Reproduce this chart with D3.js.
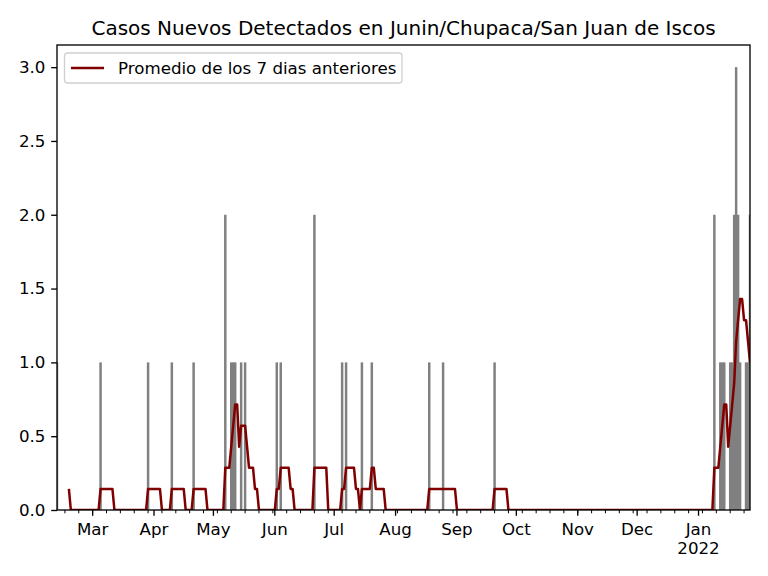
<!DOCTYPE html>
<html>
<head>
<meta charset="utf-8">
<script src="https://cdn.jsdelivr.net/npm/d3@7"></script>
<style>
  body { margin: 0; background: #fff; }
  text { font-family: "DejaVu Sans", sans-serif; }
</style>
</head>
<body>
<div id="chart"></div>
<script>
var title = "Casos Nuevos Detectados en Junin/Chupaca/San Juan de Iscos";
var legendLabel = "Promedio de los 7 dias anteriores";

// first and last day of the daily series
var firstDay = "2021-02-11";
var lastDay = "2022-01-27";

// days with new cases (all other days are 0)
var caseDates = ["2021-02-11", "2021-03-05", "2021-03-29", "2021-04-10", "2021-04-21",
  "2021-05-07", "2021-05-10", "2021-05-11", "2021-05-12", "2021-05-15", "2021-05-17",
  "2021-06-02", "2021-06-04", "2021-06-21", "2021-07-05", "2021-07-07", "2021-07-15",
  "2021-07-20", "2021-08-18", "2021-08-25", "2021-09-20", "2022-01-09", "2022-01-12",
  "2022-01-13", "2022-01-14", "2022-01-17", "2022-01-18", "2022-01-19", "2022-01-20",
  "2022-01-21", "2022-01-22", "2022-01-25", "2022-01-26", "2022-01-27"];
var caseCounts = [1, 1, 1, 1, 1,
  2, 1, 1, 1, 1, 1,
  1, 1, 2, 1, 1, 1,
  1, 1, 1, 1, 2, 1,
  1, 1, 1, 1, 2, 3,
  2, 1, 1, 1, 2];

var yTicks = [0, 0.5, 1, 1.5, 2, 2.5, 3];
var monthNames = ["Jan", "Feb", "Mar", "Apr", "May", "Jun", "Jul", "Aug", "Sep", "Oct", "Nov", "Dec"];

var W = 768, H = 576;
var margin = {top: 45, right: 18, bottom: 66, left: 57};
var parse = d3.utcParse("%Y-%m-%d");

// daily series
var start = parse(firstDay), end = parse(lastDay);
var byDay = {};
caseDates.forEach(function(d, i) { byDay[d] = caseCounts[i]; });
var days = d3.utcDay.range(start, d3.utcDay.offset(end, 1)).map(function(d) {
  var key = d3.utcFormat("%Y-%m-%d")(d);
  return {date: d, value: byDay[key] || 0};
});
// 7 day rolling average
var avg = [];
for (var i = 6; i < days.length; i++) {
  var s = 0;
  for (var k = i - 6; k <= i; k++) s += days[k].value;
  avg.push({date: days[i].date, value: s / 7});
}

var svg = d3.select("#chart").append("svg")
  .attr("width", W).attr("height", H);

var x = d3.scaleUtc().domain([start, end]).range([margin.left, W - margin.right]);
var y = d3.scaleLinear().domain([0, 3.15]).range([H - margin.bottom, margin.top]);
var dayW = x(d3.utcDay.offset(start, 1)) - x(start);

svg.append("clipPath").attr("id", "clip")
  .append("rect")
  .attr("x", margin.left).attr("y", margin.top)
  .attr("width", W - margin.left - margin.right)
  .attr("height", H - margin.top - margin.bottom);

var plot = svg.append("g").attr("clip-path", "url(#clip)");

// bars slightly wider than a day so neighbouring days merge without seams
plot.selectAll("rect.bar")
  .data(days.filter(function(d) { return d.value > 0; }))
  .enter()
  .append("rect")
  .attr("class", "bar")
  .attr("x", function(d) { return x(d.date) - dayW * 0.5 - 0.25; })
  .attr("width", dayW + 0.5)
  .attr("y", function(d) { return y(d.value); })
  .attr("height", function(d) { return y(0) - y(d.value); })
  .attr("fill", "#808080");

var line = d3.line()
  .x(function(d) { return x(d.date); })
  .y(function(d) { return y(d.value); });

plot.append("path")
  .datum(avg)
  .attr("d", line)
  .attr("fill", "none")
  .attr("stroke", "#800000")
  .attr("stroke-width", 2.5)
  .attr("stroke-linejoin", "round");

// y axis
var yAxis = svg.append("g")
  .attr("transform", "translate(" + margin.left + ",0)")
  .call(d3.axisLeft(y).tickValues(yTicks).tickFormat(d3.format(".1f"))
    .tickSize(5.8).tickPadding(5.8));
yAxis.select(".domain").remove();
yAxis.selectAll("line").attr("stroke", "#000").attr("stroke-width", 1.33);
yAxis.selectAll("text").attr("font-size", "16.67px").attr("fill", "#000")
  .attr("font-family", "DejaVu Sans");

// x axis: minor weekly ticks, major monthly ticks
var baseY = H - margin.bottom;
var minorTicks = d3.utcMonday.range(start, d3.utcDay.offset(end, 1));
svg.append("g").selectAll("line")
  .data(minorTicks)
  .enter()
  .append("line")
  .attr("x1", function(d) { return x(d); })
  .attr("x2", function(d) { return x(d); })
  .attr("y1", baseY).attr("y2", baseY + 3.3)
  .attr("stroke", "#000").attr("stroke-width", 1);

var majorTicks = d3.utcMonth.range(d3.utcMonth.ceil(start), end);
var xg = svg.append("g");
xg.selectAll("line")
  .data(majorTicks)
  .enter()
  .append("line")
  .attr("x1", function(d) { return x(d); })
  .attr("x2", function(d) { return x(d); })
  .attr("y1", baseY).attr("y2", baseY + 5.8)
  .attr("stroke", "#000").attr("stroke-width", 1.33);

var labels = xg.selectAll("text")
  .data(majorTicks)
  .enter()
  .append("text")
  .attr("x", function(d) { return x(d); })
  .attr("y", baseY + 24.5)
  .attr("text-anchor", "middle")
  .attr("font-size", "16.67px")
  .attr("fill", "#000");
labels.append("tspan")
  .text(function(d) { return monthNames[d.getUTCMonth()]; });
labels.filter(function(d) { return d.getUTCMonth() === 0; })
  .append("tspan")
  .attr("x", function(d) { return x(d); })
  .attr("dy", 19.5)
  .text(function(d) { return d.getUTCFullYear(); });

// frame
svg.append("rect")
  .attr("x", margin.left).attr("y", margin.top)
  .attr("width", W - margin.left - margin.right)
  .attr("height", H - margin.top - margin.bottom)
  .attr("fill", "none")
  .attr("stroke", "#000")
  .attr("stroke-width", 1.33);

// title
svg.append("text")
  .attr("x", (margin.left + W - margin.right) / 2)
  .attr("y", 35)
  .attr("text-anchor", "middle")
  .attr("font-size", "20px")
  .attr("fill", "#000")
  .text(title);

// legend
var lg = svg.append("g");
lg.append("rect")
  .attr("x", 64.5).attr("y", 53)
  .attr("width", 337.5).attr("height", 30)
  .attr("rx", 3)
  .attr("fill", "#fff").attr("fill-opacity", 0.8)
  .attr("stroke", "#d0d0d0").attr("stroke-width", 1.3);
lg.append("line")
  .attr("x1", 71).attr("x2", 104)
  .attr("y1", 68).attr("y2", 68)
  .attr("stroke", "#800000").attr("stroke-width", 2.5);
lg.append("text")
  .attr("x", 118).attr("y", 74)
  .attr("font-size", "16.67px")
  .attr("fill", "#000")
  .text(legendLabel);
</script>
</body>
</html>
